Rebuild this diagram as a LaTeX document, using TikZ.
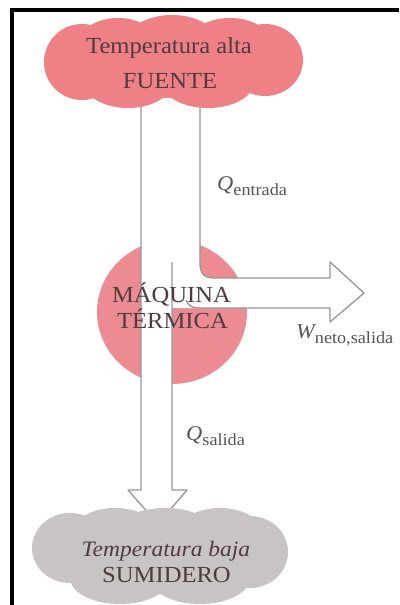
\documentclass[tikz,border=0pt]{standalone}
\usepackage{fontspec}
\setmainfont{Liberation Serif}
\usetikzlibrary{shapes.geometric}
\definecolor{cloudpink}{RGB}{238,128,134}
\definecolor{enginepink}{RGB}{236,140,146}
\definecolor{cloudgray}{RGB}{200,196,197}
\definecolor{bandline}{RGB}{150,150,150}
\definecolor{darktext}{RGB}{80,60,62}
\definecolor{labeltext}{RGB}{85,85,85}
\newcommand{\hs}[1]{\scalebox{1.07}[1]{#1}}
\newcommand{\flowlabel}[2]{\hs{{\fontsize{21}{21}\selectfont\itshape #1}\raisebox{-5pt}{\fontsize{17}{17}\selectfont #2}}}
\begin{document}
\begin{tikzpicture}[x=1pt,y=-1pt,
  bandedge/.style={draw=bandline, line width=1.3pt, line join=round},
  bigtext/.style={text=darktext, font=\fontsize{23}{23}\selectfont, inner sep=0pt, anchor=base},
  flowtext/.style={text=labeltext, inner sep=0pt, anchor=base west}]
\useasboundingbox (0,0) rectangle (399,605);
\fill[white] (0,0) rectangle (399,605);
% frame
\fill[black] (10,8) rectangle (399,12);
\fill[black] (10,8) rectangle (14,605);
% engine
\node[ellipse, fill=enginepink, minimum width=150pt, minimum height=144pt, inner sep=0pt] (engine) at (172,312) {};
% band fill
\fill[white] (141,100) -- (200,100) -- (200,263) .. controls (200,274) and (204,278) .. (215,278)
  -- (330,278) -- (330,262) -- (364,293) -- (330,322) -- (330,308) -- (172,308)
  -- (172,490) -- (187,490) -- (158,524) -- (128,490) -- (141,490) -- cycle;
% band edges
\draw[bandedge] (141,100) -- (141,490) -- (128,490) -- (158,524) -- (187,490) -- (172,490) -- (172,262);
\draw[bandedge] (200,100) -- (200,263) .. controls (200,274) and (204,278) .. (215,278)
  -- (330,278) -- (330,262) -- (364,293) -- (330,322) -- (330,308) -- (198,308)
  .. controls (192,308) and (188,305) .. (186,300);
% engine text
\node[bigtext] (maqA) at (171.5,302) {\hs{MÁQUINA}};
\node[bigtext] (maqB) at (172.5,328) {\hs{TÉRMICA}};
% top cloud
\fill[cloudpink] (82,62) ellipse [x radius=38, y radius=38]
  (118,42) ellipse [x radius=38, y radius=24]
  (172,40) ellipse [x radius=44, y radius=25]
  (230,42) ellipse [x radius=40, y radius=24]
  (265,60) ellipse [x radius=38, y radius=36]
  (128,82) ellipse [x radius=44, y radius=26]
  (208,82) ellipse [x radius=46, y radius=26]
  (172,62) ellipse [x radius=100, y radius=36];
\node[bigtext] (fuenteA) at (169,53) {\hs{Temperatura alta}};
\node[bigtext] (fuenteB) at (170,88) {\hs{FUENTE}};
% bottom cloud
\fill[cloudgray] (70,548) ellipse [x radius=38, y radius=35]
  (115,530) ellipse [x radius=40, y radius=22]
  (165,528) ellipse [x radius=45, y radius=20]
  (220,530) ellipse [x radius=40, y radius=22]
  (250,552) ellipse [x radius=38, y radius=36]
  (120,578) ellipse [x radius=50, y radius=26]
  (200,578) ellipse [x radius=50, y radius=26]
  (160,556) ellipse [x radius=110, y radius=38];
\node[bigtext, font=\fontsize{22}{22}\selectfont\itshape] (sumA) at (166,556) {\hs{Temperatura baja}};
\node[bigtext] (sumB) at (166.5,582) {\hs{SUMIDERO}};
% labels
\node[flowtext] (qin) at (217,190) {\flowlabel{Q}{entrada}};
\node[flowtext] (qout) at (186,440) {\flowlabel{Q}{salida}};
\node[flowtext] (wout) at (296,338) {\flowlabel{W}{neto,salida}};
\end{tikzpicture}
\end{document}
